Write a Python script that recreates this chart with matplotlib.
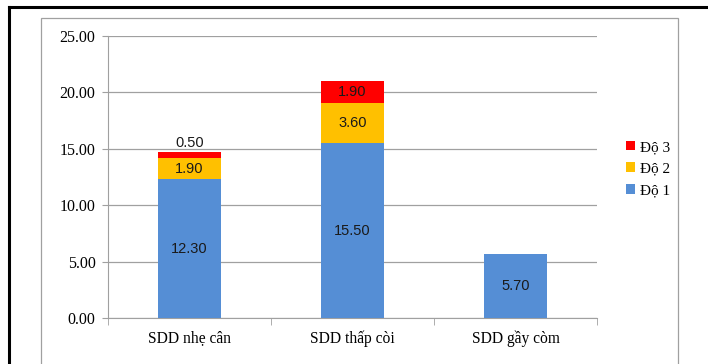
import numpy as np
import matplotlib.pyplot as plt
from matplotlib.patches import Rectangle
from matplotlib.lines import Line2D

categories = ["SDD nhẹ cân", "SDD thấp còi", "SDD gầy còm"]
do1 = [12.30, 15.50, 5.70]
do2 = [1.90, 3.60, 0.0]
do3 = [0.50, 1.90, 0.0]
yticks = [0, 5, 10, 15, 20, 25]

blue = '#558ED5'
yellow = '#FFC000'
red = '#FF0000'
serif = 'Liberation Serif'
sans = 'Liberation Sans'

fig = plt.figure(figsize=(7.08, 3.64), dpi=100)
# outer frame lines (black) and inner chart box (gray)
fig.add_artist(Line2D([9/708, 1.0], [1-7/364, 1-7/364], color='black', lw=2.2))
fig.add_artist(Line2D([9/708, 9/708], [0, 1-7/364], color='black', lw=2.2))
fig.add_artist(Rectangle((41/708, -0.05), (678-41)/708, 1.05-18/364,
                         fill=False, edgecolor='#A0A0A0', lw=0.9))

ax = fig.add_axes([108/708, 46/364, 489/708, 282/364])
x = np.arange(len(categories))
w = 0.39
ax.bar(x, do1, w, color=blue, label='Độ 1', zorder=3)
ax.bar(x, do2, w, bottom=do1, color=yellow, label='Độ 2', zorder=3)
bottom3 = np.array(do1) + np.array(do2)
ax.bar(x, do3, w, bottom=bottom3, color=red, label='Độ 3', zorder=3)

for i in range(len(categories)):
    ax.text(x[i], do1[i] / 2, f"{do1[i]:.2f}", ha='center', va='center',
            fontsize=10.5, family=sans, color='#1a1a1a', zorder=4)
    if do2[i] > 0:
        ax.text(x[i], do1[i] + do2[i] / 2, f"{do2[i]:.2f}", ha='center', va='center',
                fontsize=10.5, family=sans, color='#1a1a1a', zorder=4)
    if do3[i] > 0:
        if do3[i] < 1:
            ax.text(x[i], bottom3[i] + do3[i] + 0.15, f"{do3[i]:.2f}", ha='center', va='bottom',
                    fontsize=10.5, family=sans, color='#1a1a1a', zorder=4)
        else:
            ax.text(x[i], bottom3[i] + do3[i] / 2, f"{do3[i]:.2f}", ha='center', va='center',
                    fontsize=10.5, family=sans, color='#1a1a1a', zorder=4)

ax.set_xlim(-0.5, 2.5)
ax.set_ylim(0, 25)
ax.set_yticks(yticks)
ax.set_yticklabels([f"{v:.2f}" for v in yticks], family=serif, fontsize=11.5)
ax.set_xticks(x)
ax.set_xticklabels(categories, family=serif, fontsize=11.2)
ax.tick_params(axis='x', length=0, pad=9)
ax.tick_params(axis='y', length=4, color='#A0A0A0', pad=5)
ax.set_xticks([-0.5, 0.5, 1.5, 2.5], minor=True)
ax.tick_params(axis='x', which='minor', length=5, color='#A0A0A0')
ax.grid(axis='y', color='#A0A0A0', lw=0.9, zorder=0)
for s in ['top', 'right']:
    ax.spines[s].set_visible(False)
ax.spines['left'].set_color('#A0A0A0')
ax.spines['bottom'].set_color('#A0A0A0')

h, l = ax.get_legend_handles_labels()
fig.legend(h[::-1], l[::-1], loc='center left', bbox_to_anchor=(612/708, 1-169/364),
           frameon=False, prop={'family': serif, 'size': 11},
           handlelength=0.6, handleheight=0.6, handletextpad=0.3, labelspacing=0.55)

plt.savefig('out.png', dpi=100)
